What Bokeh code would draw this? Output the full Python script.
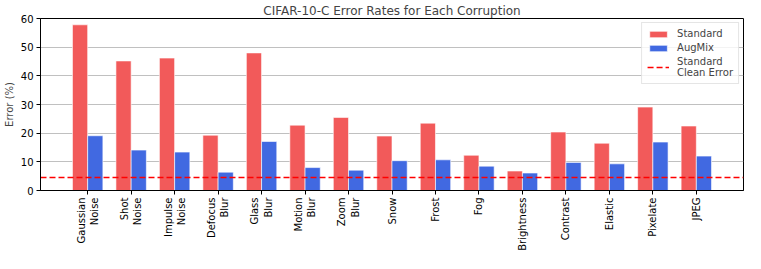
import numpy as np
from bokeh.plotting import figure
from bokeh.models import FixedTicker, Range1d, Legend, LegendItem
from bokeh.embed import file_html
from bokeh.resources import INLINE

categories = ["Gaussian\nNoise", "Shot\nNoise", "Impulse\nNoise", "Defocus\nBlur", "Glass\nBlur",
              "Motion\nBlur", "Zoom\nBlur", "Snow", "Frost", "Fog", "Brightness", "Contrast",
              "Elastic", "Pixelate", "JPEG"]
standard = [57.8, 45.2, 46.2, 19.3, 48.0, 22.8, 25.5, 19.0, 23.5, 12.3, 6.8, 20.4, 16.5, 29.1, 22.5]
augmix = [19.1, 14.1, 13.4, 6.4, 17.1, 8.0, 7.1, 10.4, 10.7, 8.5, 6.1, 9.8, 9.3, 16.9, 12.0]
clean_error = 4.5
yticks = [0, 10, 20, 30, 40, 50, 60]

FONT = "DejaVu Sans"
RED = "#f25a5a"
BLUE = "#4169e1"
bar_w = 0.35

x = np.arange(len(categories))
pad = (len(categories) - 1 + 2 * bar_w) * 0.05 + bar_w
x_lo, x_hi = x[0] - pad, x[-1] + pad

p = figure(width=745, height=253, output_backend="svg", toolbar_location=None,
           x_range=Range1d(x_lo, x_hi), y_range=Range1d(0, 60),
           title="CIFAR-10-C Error Rates for Each Corruption",
           min_border_left=0, min_border_right=2, min_border_top=0, min_border_bottom=0)

p.title.align = "center"
p.title.text_font = FONT
p.title.text_font_size = "12px"
p.title.text_font_style = "normal"
p.title.standoff = 2

r1 = p.vbar(x=x - bar_w / 2, top=standard, width=bar_w, fill_color=RED,
            line_color="white", line_alpha=0.6, line_width=1)
r2 = p.vbar(x=x + bar_w / 2, top=augmix, width=bar_w, fill_color=BLUE,
            line_color="white", line_alpha=0.6, line_width=1)
r3 = p.line(x=[x_lo, x_hi], y=[clean_error, clean_error], line_color="#ff0000",
            line_dash="6 3", line_width=1.5)

legend = Legend(items=[LegendItem(label="Standard", renderers=[r1]),
                       LegendItem(label="AugMix", renderers=[r2]),
                       LegendItem(label="Standard\nClean Error", renderers=[r3])],
                location="top_right")
legend.label_text_font = FONT
legend.label_text_font_size = "10px"
legend.glyph_width = 22
legend.glyph_height = 8
legend.label_height = 10
legend.spacing = 3
legend.padding = 5
legend.margin = 4
legend.label_standoff = 8
legend.border_line_color = "#cccccc"
legend.border_line_width = 1
legend.background_fill_alpha = 0.8
p.add_layout(legend)

p.xaxis.ticker = FixedTicker(ticks=list(x))
p.xaxis.major_label_overrides = {int(i): c for i, c in zip(x, categories)}
p.xaxis.major_label_orientation = np.pi / 2
p.yaxis.ticker = FixedTicker(ticks=yticks)
p.yaxis.axis_label = "Error (%)"

for ax in (p.xaxis, p.yaxis):
    ax.major_label_text_font = FONT
    ax.major_label_text_font_size = "10px"
    ax.axis_label_text_font = FONT
    ax.axis_label_text_font_size = "10px"
    ax.axis_label_text_font_style = "normal"
    ax.axis_label_standoff = 3
    ax.major_label_standoff = 3
    ax.major_tick_in = 0
    ax.major_tick_out = 4
    ax.minor_tick_line_color = None
    ax.axis_line_color = "black"
    ax.major_tick_line_color = "black"
    ax.major_label_text_color = "black"

p.xgrid.grid_line_color = None
p.ygrid.grid_line_color = "#b0b0b0"
p.ygrid.grid_line_width = 0.8
p.outline_line_color = "black"
p.outline_line_alpha = 1
p.outline_line_width = 1

open("out.html", "w").write(file_html(p, INLINE))
